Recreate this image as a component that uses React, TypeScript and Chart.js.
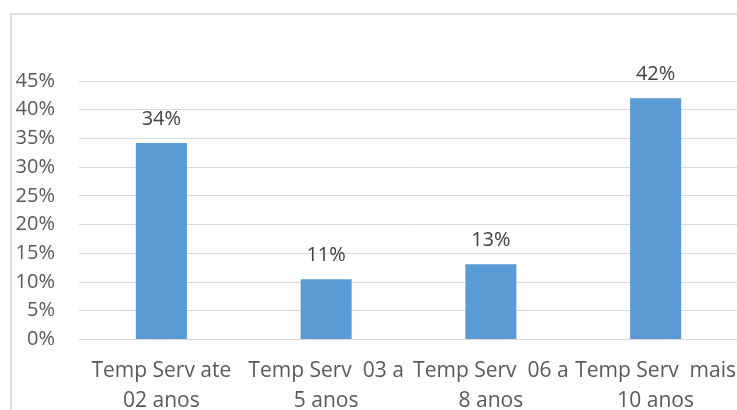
import React, { useEffect, useRef } from "react";
import { Chart, registerables } from "chart.js";

Chart.register(...registerables);

const categories: string[][] = [
  ["Temp Serv ate", "02 anos"],
  ["Temp Serv  03 a", "5 anos"],
  ["Temp Serv  06 a", "8 anos"],
  ["Temp Serv  mais", "10 anos"],
];
const values: number[] = [34.2, 10.5, 13.1, 42.0];
const yMax = 45;
const yStep = 5;

const FONT = "'Open Sans', 'Liberation Sans', sans-serif";

const dataLabelPlugin = {
  id: "dataLabels",
  afterDatasetsDraw(chart: any) {
    const ctx = chart.ctx;
    const meta = chart.getDatasetMeta(0);
    ctx.save();
    ctx.font = `20px ${FONT}`;
    ctx.fillStyle = "#404040";
    ctx.textAlign = "center";
    ctx.textBaseline = "alphabetic";
    meta.data.forEach((bar: any, i: number) => {
      const v = chart.data.datasets[0].data[i] as number;
      ctx.fillText(Math.round(v) + "%", bar.x, bar.y - 18);
    });
    ctx.restore();
  },
};

export default function App() {
  const ref = useRef<HTMLCanvasElement>(null);
  useEffect(() => {
    document.body.style.overflow = "hidden";
    const chart = new Chart(ref.current!, {
      type: "bar",
      data: {
        labels: categories,
        datasets: [
          {
            data: values,
            backgroundColor: "#5B9BD5",
            barPercentage: 0.31,
            categoryPercentage: 1,
          },
        ],
      },
      options: {
        animation: false,
        responsive: false,
        maintainAspectRatio: false,
        layout: { padding: { left: 0, top: 66, right: 70, bottom: 0 } },
        plugins: {
          legend: { display: false },
          tooltip: { enabled: false },
        },
        scales: {
          x: {
            grid: { display: false, drawTicks: false },
            border: { display: false },
            ticks: {
              color: "#595959",
              font: { family: FONT, size: 21, lineHeight: 1.4 },
              padding: 17,
              maxRotation: 0,
              minRotation: 0,
              autoSkip: false,
            },
            afterFit: (s: any) => {
              s.height = 103.5;
            },
          },
          y: {
            min: 0,
            max: yMax,
            grid: { color: "#d9d9d9", lineWidth: 1, drawTicks: false },
            border: { display: false },
            ticks: {
              stepSize: yStep,
              color: "#595959",
              font: { family: FONT, size: 20 },
              padding: 24,
              callback: (v: any) => v + "%",
            },
            afterFit: (s: any) => {
              s.width = 67;
            },
          },
        },
      },
      plugins: [dataLabelPlugin],
    });
    return () => chart.destroy();
  }, []);

  return (
    <div
      style={{
        position: "fixed",
        left: 10,
        top: 13,
        width: 800,
        height: 432,
        border: "2px solid #dedede",
        boxSizing: "border-box",
        background: "#fff",
      }}
    >
      <canvas ref={ref} width={796} height={428} style={{ display: "block", width: 796, height: 428 }} />
    </div>
  );
}
